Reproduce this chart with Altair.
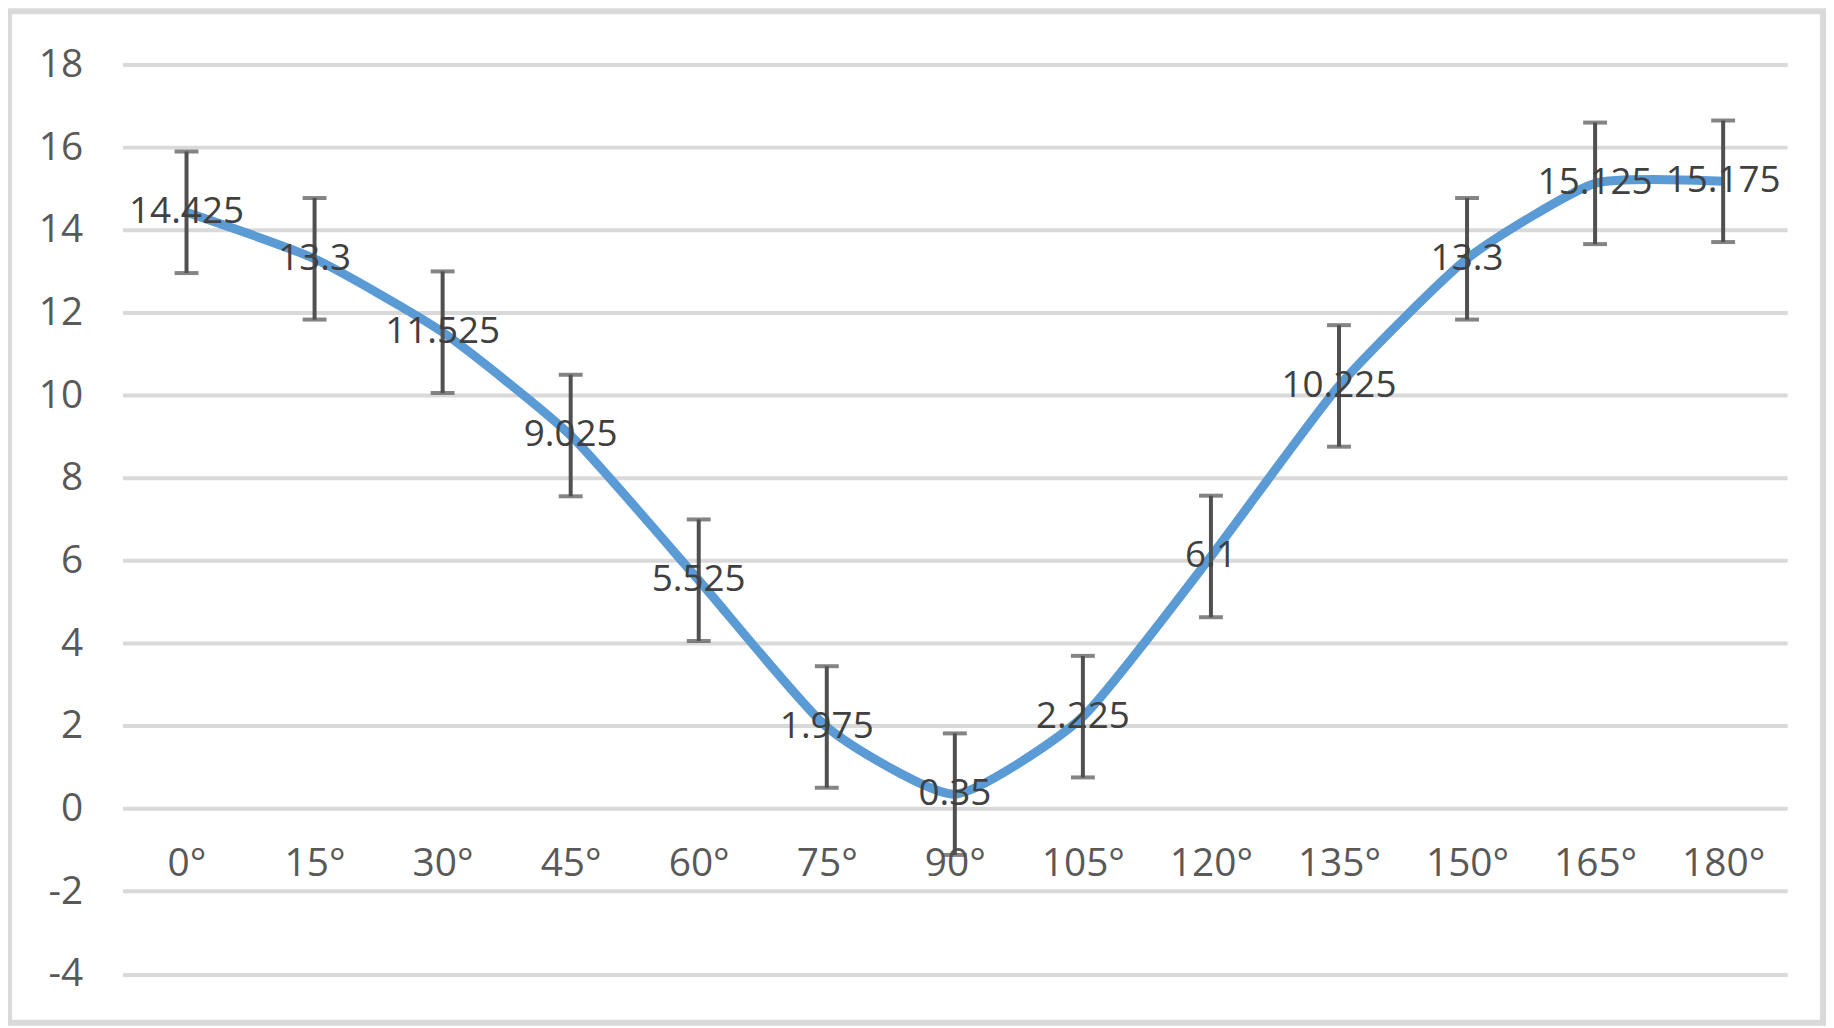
import altair as alt
import pandas as pd

angles = ["0°", "15°", "30°", "45°", "60°", "75°", "90°", "105°", "120°", "135°", "150°", "165°", "180°"]
values = [14.425, 13.3, 11.525, 9.025, 5.525, 1.975, 0.35, 2.225, 6.1, 10.225, 13.3, 15.125, 15.175]
errors = [1.47, 1.47, 1.47, 1.47, 1.47, 1.47, 1.47, 1.47, 1.47, 1.47, 1.47, 1.47, 1.47]
y_ticks = [-4, -2, 0, 2, 4, 6, 8, 10, 12, 14, 16, 18]

df = pd.DataFrame({
    "angle": angles,
    "value": values,
    "lo": [v - e for v, e in zip(values, errors)],
    "hi": [v + e for v, e in zip(values, errors)],
    "label": [str(v) for v in values],
})

W, H = 1672, 913.5

x = alt.X("angle:N", sort=angles, title=None,
          scale=alt.Scale(type="point", padding=0.5),
          axis=alt.Axis(orient="bottom", offset=-166.5, domain=False, ticks=False, grid=False,
                        labelAngle=0, labelPadding=37, labelFont="Open Sans", labelFontSize=39,
                        labelColor="#595959"))
yscale = alt.Scale(domain=[-4, 18], nice=False, zero=False)
y = alt.Y("value:Q", scale=yscale, title=None,
          axis=alt.Axis(values=y_ticks, domain=False, ticks=False, grid=True,
                        gridColor="#d9d9d9", gridWidth=4, labelPadding=40,
                        labelExpr="toString(datum.value)",
                        labelFont="Open Sans", labelFontSize=39, labelColor="#595959"))

base = alt.Chart(df)

line = base.mark_line(color="#5b9bd5", strokeWidth=9, interpolate="cardinal", tension=0.45).encode(x=x, y=y)

rule = base.mark_rule(color="#505050", strokeWidth=4).encode(
    x=alt.X("angle:N", sort=angles),
    y=alt.Y("lo:Q", scale=yscale),
    y2="hi:Q",
)
cap_lo = base.mark_tick(color="#505050", thickness=4, size=24).encode(
    x=alt.X("angle:N", sort=angles), y=alt.Y("lo:Q", scale=yscale))
cap_hi = base.mark_tick(color="#505050", thickness=4, size=24).encode(
    x=alt.X("angle:N", sort=angles), y=alt.Y("hi:Q", scale=yscale))

labels = base.mark_text(font="Open Sans", fontSize=37, color="#404040",
                        align="center", baseline="middle").encode(
    x=alt.X("angle:N", sort=angles), y=alt.Y("value:Q", scale=yscale), text="label:N")

frame = alt.Chart(pd.DataFrame({"f": [0]})).mark_rect(
    fill=None, stroke="#d9d9d9", strokeWidth=6).encode(
    x=alt.value(-114), x2=alt.value(1708), y=alt.value(-53.5), y2=alt.value(962.5))

chart = alt.layer(frame, line, rule, cap_lo, cap_hi, labels).properties(
    width=W, height=H,
    autosize=alt.AutoSizeParams(type="none"),
    padding={"left": 115, "top": 54.5, "right": 39, "bottom": 52},
    background="white",
).configure_view(stroke=None)

chart.save("out.html", embed_options={"renderer": "svg", "actions": False})
